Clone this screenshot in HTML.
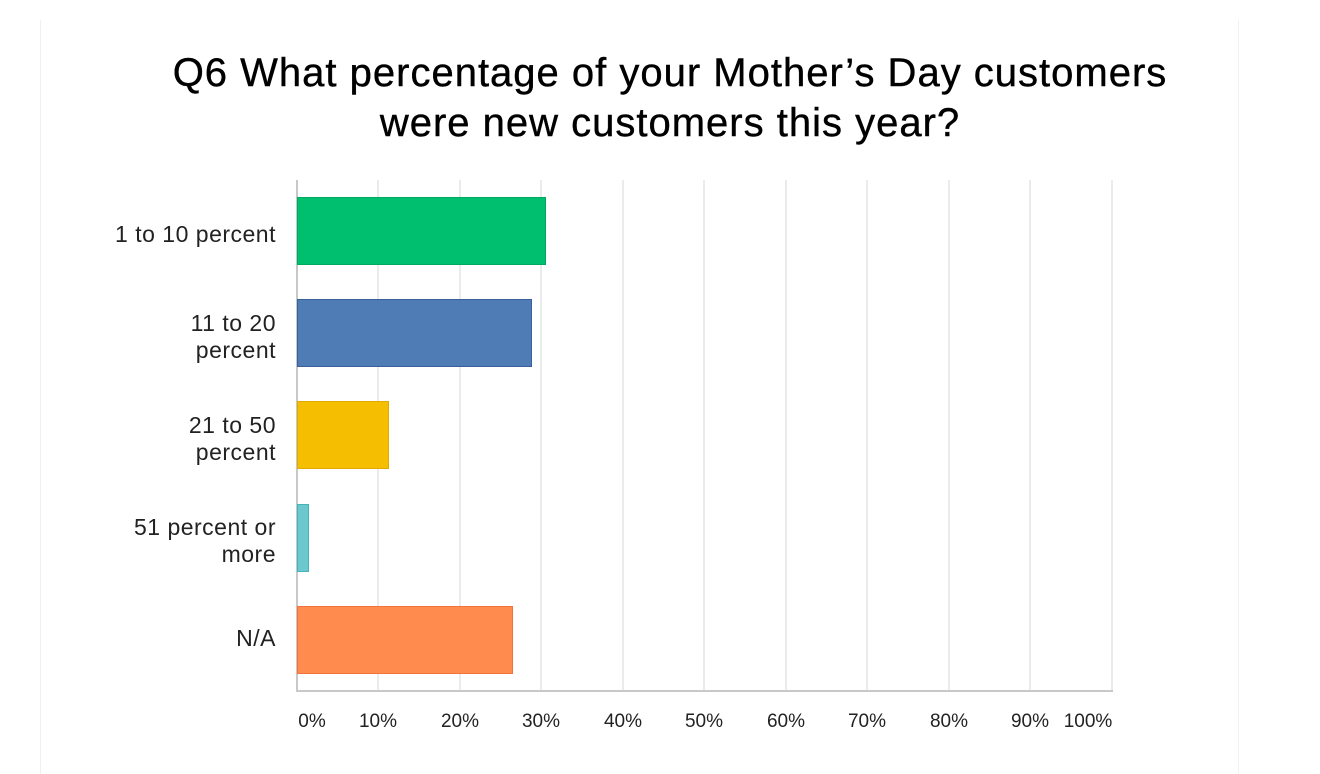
<!DOCTYPE html>
<html><head><style>
body{margin:0;width:1320px;height:774px;background:#fff;overflow:hidden;font-family:"Liberation Sans",sans-serif;position:relative}
.a{position:absolute}
.t{position:absolute;left:0;width:1340px;text-align:center;font-size:40px;letter-spacing:1px;color:#000;line-height:50px;-webkit-text-stroke:0.4px #000}
.l{position:absolute;right:1044px;text-align:right;font-size:23px;letter-spacing:0.5px;color:#222;line-height:27px}
.g{position:absolute;top:180px;height:511px;width:2px;background:#ebebeb}
.b{position:absolute;left:297px;height:68px;box-sizing:border-box;border:1px solid}
.x{position:absolute;top:711px;font-size:19px;color:#222;transform:translateX(-50%)}
</style></head><body>
<div class="a" style="left:40px;top:20px;width:1px;height:754px;background:#f0f0f0"></div>
<div class="a" style="left:1238px;top:20px;width:1px;height:754px;background:#f0f0f0"></div>
<div class="t" style="top:48px">Q6 What percentage of your Mother’s Day customers</div>
<div class="t" style="top:98px">were new customers this year?</div>
<div class="g" style="left:377px"></div><div class="g" style="left:459px"></div><div class="g" style="left:540px"></div><div class="g" style="left:622px"></div><div class="g" style="left:703px"></div><div class="g" style="left:785px"></div><div class="g" style="left:866px"></div><div class="g" style="left:948px"></div><div class="g" style="left:1029px"></div><div class="g" style="left:1111px"></div>
<div class="a" style="left:296px;top:180px;width:2px;height:512px;background:#c8c8c8"></div>
<div class="a" style="left:296px;top:690px;width:817px;height:2px;background:#c8c8c8"></div>
<div class="b" style="top:197px;width:249px;background:#00bf6f;border-color:#00a95f"></div>
<div class="b" style="top:299px;width:235px;background:#507cb6;border-color:#3a5f9e"></div>
<div class="b" style="top:401px;width:92px;background:#f5be00;border-color:#e0aa00"></div>
<div class="b" style="top:504px;width:12px;background:#6bc8cd;border-color:#44b4ba"></div>
<div class="b" style="top:606px;width:216px;background:#ff8b4f;border-color:#f0733a"></div>
<div class="l" style="top:221px">1 to 10 percent</div>
<div class="l" style="top:310px">11 to 20<br>percent</div>
<div class="l" style="top:412px">21 to 50<br>percent</div>
<div class="l" style="top:514px">51 percent or<br>more</div>
<div class="l" style="top:625px">N/A</div>
<div class="x" style="left:312px">0%</div><div class="x" style="left:378px">10%</div><div class="x" style="left:460px">20%</div><div class="x" style="left:541px">30%</div><div class="x" style="left:623px">40%</div><div class="x" style="left:704px">50%</div><div class="x" style="left:786px">60%</div><div class="x" style="left:867px">70%</div><div class="x" style="left:949px">80%</div><div class="x" style="left:1030px">90%</div><div class="x" style="left:1088px">100%</div>
</body></html>
